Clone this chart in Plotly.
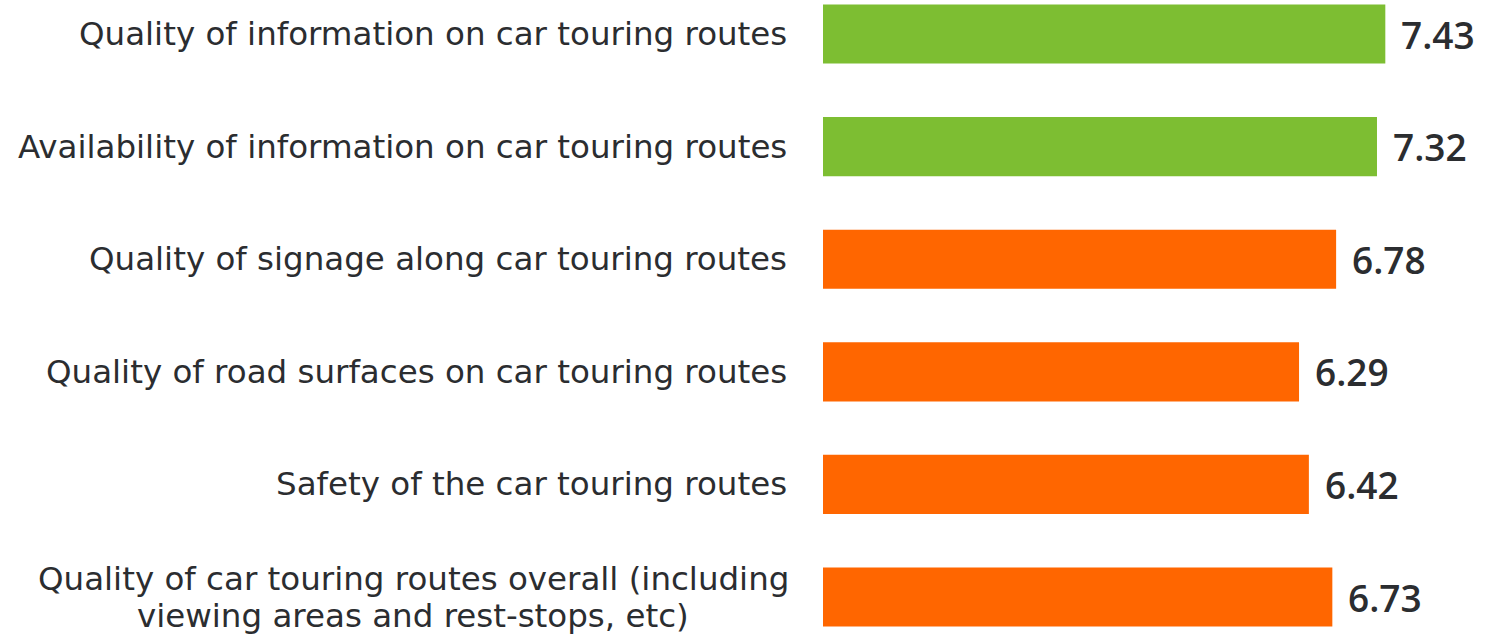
import plotly.graph_objects as go

categories = [
    "Quality of information on car touring routes",
    "Availability of information on car touring routes",
    "Quality of signage along car touring routes",
    "Quality of road surfaces on car touring routes",
    "Safety of the car touring routes",
    "Quality of car touring routes overall (including<br>viewing areas and rest-stops, etc)",
]
values = [7.43, 7.32, 6.78, 6.29, 6.42, 6.73]
bar_colors = ["#7DBE32", "#7DBE32", "#FF6600", "#FF6600", "#FF6600", "#FF6600"]

FONT = "DejaVu Sans"
TXT = "#2b2d30"
LABEL_SIZE = 32.5
LINE_PITCH = 37

fig = go.Figure(go.Bar(
    x=values,
    y=list(range(len(categories))),
    orientation="h",
    marker=dict(color=bar_colors, line=dict(width=0)),
    width=0.525,
    hoverinfo="skip",
))

annotations = []
for i, (c, v) in enumerate(zip(categories, values)):
    lines = c.split("<br>")
    n = len(lines)
    for k, ln in enumerate(lines):
        if n > 1:
            annotations.append(dict(
                x=0, y=i, xref="x", yref="y", text=ln, showarrow=False,
                xanchor="center", yanchor="middle", align="center",
                xshift=-410, yshift=((n - 1) / 2 - k) * LINE_PITCH,
                font=dict(family=FONT, size=LABEL_SIZE, color=TXT),
            ))
        else:
            annotations.append(dict(
                x=0, y=i, xref="x", yref="y", text=ln, showarrow=False,
                xanchor="right", yanchor="middle", align="right", xshift=-34,
                font=dict(family=FONT, size=LABEL_SIZE, color=TXT),
            ))
    annotations.append(dict(
        x=v, y=i, xref="x", yref="y", text=f"{v:.2f}", showarrow=False,
        xanchor="left", yanchor="middle", xshift=14,
        font=dict(family="Open Sans", size=37, color=TXT, weight=600),
    ))

fig.update_layout(
    width=1495, height=636,
    margin=dict(l=823, r=6, t=0, b=0),
    plot_bgcolor="white", paper_bgcolor="white",
    showlegend=False,
    annotations=annotations,
    xaxis=dict(range=[0, 8.8], visible=False, fixedrange=True),
    yaxis=dict(range=[5.346, -0.302], visible=False, fixedrange=True),
)

fig.write_html("out.html", config={"displayModeBar": False},
               post_script="document.body.style.margin='0';")
